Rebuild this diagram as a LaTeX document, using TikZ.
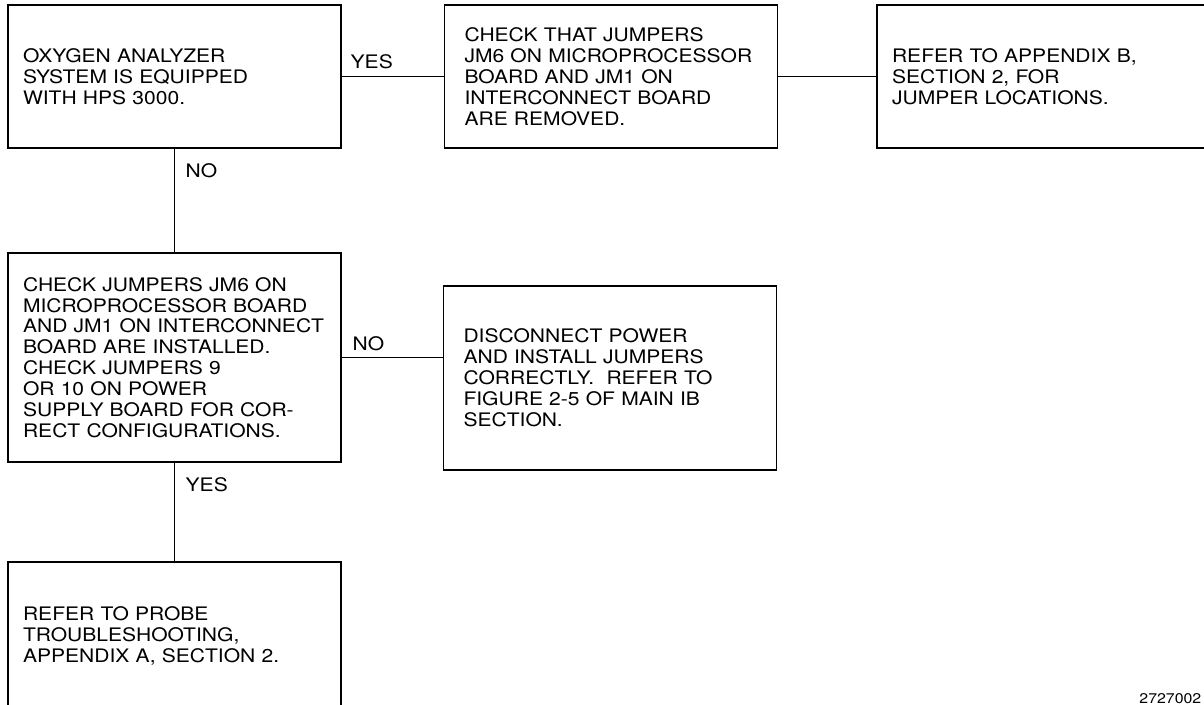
\documentclass[tikz,border=0pt]{standalone}
\usepackage{fontspec}
\setmainfont{TeX Gyre Heros}[FakeStretch=1.13]

\begin{document}
\begin{tikzpicture}[x=0.02cm, y=-0.02cm, line width=0.8pt,
  box/.style={draw, rectangle, align=left, inner xsep=0.3cm, text width=6.06cm,
    minimum width=6.66cm, font=\fontsize{10.6}{11.9}\selectfont},
  boxin/.style={box, inner xsep=0.4cm, text width=5.86cm},
  answer/.style={anchor=base west, inner sep=0pt, font=\fontsize{10.6}{11.9}\selectfont}]

\useasboundingbox (0,0) rectangle (1204,704);
\clip (0,0) rectangle (1204,704);

% ---------- top row ----------
\node[box, minimum height=2.86cm] (oxy) at (174.5,76.5)
  {OXYGEN ANALYZER\\SYSTEM IS EQUIPPED\\WITH HPS 3000.};
\node[boxin, minimum height=2.86cm] (removed) at (611,76.5)
  {CHECK THAT JUMPERS\\JM6 ON MICROPROCESSOR\\BOARD AND JM1 ON\\INTERCONNECT BOARD\\ARE REMOVED.};
\node[box, minimum height=2.86cm] (appb) at (1043.5,76.5)
  {REFER TO APPENDIX B,\\SECTION 2, FOR\\JUMPER LOCATIONS.};

\draw (oxy.east) -- (removed.west);
\draw (removed.east) -- (appb.west);
\node[answer] (yes1) at (350,68) {YES};

% ---------- middle row ----------
\node[box, minimum height=4.18cm] (installed) at (174.5,357.5)
  {CHECK JUMPERS JM6 ON\\MICROPROCESSOR BOARD\\AND JM1 ON INTERCONNECT\\BOARD ARE INSTALLED.\\CHECK JUMPERS 9\\OR 10 ON POWER\\SUPPLY BOARD FOR COR-\\RECT CONFIGURATIONS.};
\node[boxin, minimum height=3.68cm] (reinstall) at (610,378)
  {DISCONNECT POWER\\AND INSTALL JUMPERS\\CORRECTLY.\ \ REFER TO\\FIGURE 2-5 OF MAIN IB\\SECTION.};

\draw (oxy.south) -- (installed.north);
\node[answer] (no1) at (185,177) {NO};
\draw (installed.east) -- (installed.east -| reinstall.west);
\node[answer] (no2) at (352,350) {NO};

% ---------- bottom row ----------
\node[box, minimum height=2.94cm] (probe) at (174.5,635.5)
  {REFER TO PROBE\\TROUBLESHOOTING,\\APPENDIX A, SECTION 2.};

\draw (installed.south) -- (probe.north);
\node[answer] (yes2) at (185,491) {YES};

\node[anchor=base east, inner sep=0pt, font=\fontsize{8}{9}\selectfont] (fig) at (1202,703) {2727002};

\end{tikzpicture}
\end{document}
